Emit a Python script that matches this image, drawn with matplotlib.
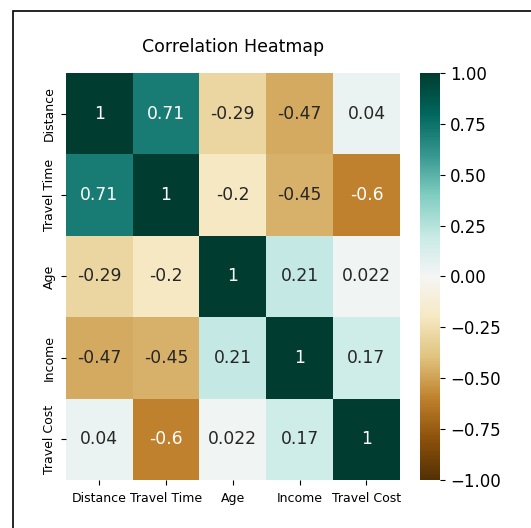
import numpy as np
import matplotlib
matplotlib.use('Agg')
import matplotlib.pyplot as plt
import seaborn as sns
import pandas as pd

labels = ['Distance', 'Travel Time', 'Age', 'Income', 'Travel Cost']
corr = [[1, 0.71, -0.29, -0.47, 0.04],
        [0.71, 1, -0.2, -0.45, -0.6],
        [-0.29, -0.2, 1, 0.21, 0.022],
        [-0.47, -0.45, 0.21, 1, 0.17],
        [0.04, -0.6, 0.022, 0.17, 1]]

df = pd.DataFrame(corr, index=labels, columns=labels)

fig = plt.figure(figsize=(5.31, 5.28), dpi=100)
ax = fig.add_axes([0.124, 0.0909, 0.629, 0.771])
cax = fig.add_axes([0.791, 0.0909, 0.038, 0.771])

sns.heatmap(df, annot=True, cmap='BrBG', vmin=-1, vmax=1, ax=ax, cbar_ax=cax,
            annot_kws={'fontsize': 12.3})
ax.set_title('Correlation Heatmap', fontsize=12.5, pad=15)
ax.tick_params(axis='both', labelsize=9)
ax.tick_params(axis='x', pad=5)
plt.setp(ax.get_xticklabels(), rotation=0)
plt.setp(ax.get_yticklabels(), rotation=90, va='center')
cax.tick_params(labelsize=12)

# frame around figure (cropped at right/bottom)
fig.patches.append(plt.Rectangle((13/531, -0.1), 1.2, 1 - 11/528 + 0.1,
                                 transform=fig.transFigure, fill=False,
                                 edgecolor='black', linewidth=1.2))

fig.savefig('out.png', dpi=100)
